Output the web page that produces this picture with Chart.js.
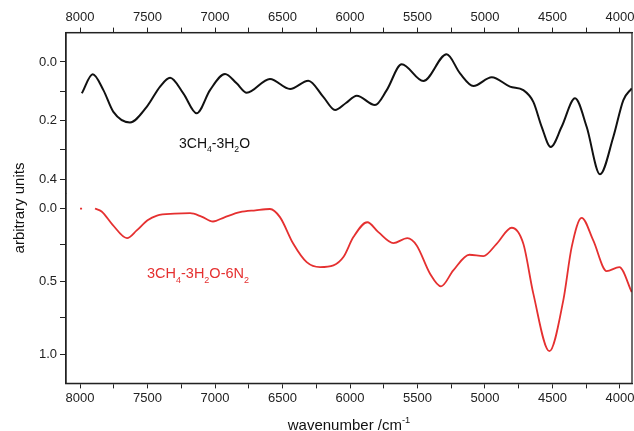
<!DOCTYPE html>
<html>
<head>
<meta charset="utf-8">
<script src="https://cdn.jsdelivr.net/npm/chart.js@4/dist/chart.umd.min.js"></script>
<style>
  body { margin: 0; background: #fff; }
  #wrap { width: 634px; height: 431px; }
</style>
</head>
<body>
<div id="wrap"><canvas id="chart"></canvas></div>
<script>
// wavenumber (cm-1) and absorbance-like values
const blackWn = [7987, 7906, 7827, 7753, 7630, 7506, 7407, 7333, 7235, 7136, 7037, 6926, 6840, 6765, 6593, 6444, 6309, 6198, 6111, 6030, 5950, 5815, 5728, 5617, 5457, 5284, 5185, 5086, 4950, 4815, 4716, 4642, 4580, 4513, 4432, 4333, 4247, 4148, 4049, 3975, 3913]
const blackVal = [0.107, 0.042, 0.096, 0.170, 0.206, 0.153, 0.084, 0.054, 0.107, 0.175, 0.096, 0.041, 0.073, 0.105, 0.058, 0.092, 0.064, 0.119, 0.164, 0.14, 0.115, 0.147, 0.096, 0.008, 0.065, -0.026, 0.039, 0.082, 0.052, 0.084, 0.096, 0.136, 0.221, 0.290, 0.221, 0.124, 0.221, 0.383, 0.255, 0.130, 0.090]

const redWn = [8000, 7985, 7940, 7889, 7840, 7760, 7652, 7580, 7500, 7430, 7300, 7185, 7100, 7015, 6930, 6815, 6700, 6593, 6519, 6420, 6321, 6222, 6123, 6049, 5975, 5872, 5790, 5679, 5575, 5506, 5407, 5326, 5235, 5116, 5012, 4914, 4802, 4716, 4642, 4523, 4420, 4358, 4284, 4198, 4099, 4005, 3913]
const redVal = [0, 0, null, 0.0, 0.02, 0.11, 0.203, 0.15, 0.08, 0.048, 0.035, 0.032, 0.055, 0.089, 0.06, 0.025, 0.012, 0.003, 0.059, 0.242, 0.368, 0.402, 0.39, 0.333, 0.196, 0.094, 0.162, 0.237, 0.203, 0.253, 0.447, 0.534, 0.425, 0.317, 0.326, 0.242, 0.132, 0.242, 0.584, 0.979, 0.630, 0.265, 0.064, 0.219, 0.429, 0.402, 0.573]

const xTicks = [4000, 4250, 4500, 4750, 5000, 5250, 5500, 5750, 6000, 6250, 6500, 6750, 7000, 7250, 7500, 7750, 8000]
const topTicks = [0, 0.1, 0.2, 0.3, 0.4]
const botTicks = [0, 0.25, 0.5, 0.75, 1.0]

const FONT = "'Liberation Sans', Arial, sans-serif"
const INK = '#222'
const RED = '#e53030'

const toPoints = (xs, ys) => xs.map((x, i) => ({ x, y: ys[i] }))

const xAxis = (position) => ({
  type: 'linear',
  position,
  reverse: true,
  min: 3911,
  max: 8104,
  afterBuildTicks: (scale) => { scale.ticks = xTicks.map(v => ({ value: v })) },
  ticks: {
    autoSkip: false,
    maxRotation: 0,
    padding: 2,
    color: INK,
    font: { family: FONT, size: 13 },
    callback: (v) => (v % 500 === 0 ? String(v) : '')
  },
  grid: { drawOnChartArea: false, tickLength: 5, color: INK, lineWidth: 1 },
  border: { display: true, color: INK, width: 1.3 }
})

const yAxis = (ticks, min, max, weight, fmt) => ({
  type: 'linear',
  position: 'left',
  stack: 'panels',
  stackWeight: weight,
  reverse: true,
  offset: false,
  min,
  max,
  afterBuildTicks: (scale) => { scale.ticks = ticks.map(v => ({ value: v })) },
  afterFit: (scale) => { scale.width = 29 },
  ticks: {
    padding: 3,
    color: INK,
    font: { family: FONT, size: 13 },
    callback: fmt
  },
  grid: { drawOnChartArea: false, tickLength: 6, color: INK, lineWidth: 1 },
  border: { display: true, color: INK, width: 1.3 }
})

// frame, axis titles and the in-plot labels with sub/superscripts
function drawRich(ctx, parts, x, y, size, color) {
  ctx.fillStyle = color
  ctx.textBaseline = 'alphabetic'
  ctx.textAlign = 'left'
  let cx = x
  for (const [txt, kind] of parts) {
    const s = kind ? size * 0.62 : size
    ctx.font = s + 'px ' + FONT
    const dy = kind === 'sub' ? size * 0.28 : kind === 'sup' ? -size * 0.45 : 0
    ctx.fillText(txt, cx, y + dy)
    cx += ctx.measureText(txt).width
  }
  return cx - x
}

function richWidth(ctx, parts, size) {
  let w = 0
  for (const [txt, kind] of parts) {
    ctx.font = (kind ? size * 0.62 : size) + 'px ' + FONT
    w += ctx.measureText(txt).width
  }
  return w
}

const decor = {
  id: 'decor',
  afterDraw(chart) {
    const { ctx, chartArea: a, scales } = chart
    ctx.save()
    ctx.strokeStyle = INK
    ctx.lineWidth = 1.3
    ctx.strokeRect(a.left, a.top, a.right - a.left, a.bottom - a.top)

    const blackLabel = [['3CH'], ['4', 'sub'], ['-3H'], ['2', 'sub'], ['O']]
    const redLabel = [['3CH'], ['4', 'sub'], ['-3H'], ['2', 'sub'], ['O-6N'], ['2', 'sub']]
    drawRich(ctx, blackLabel, scales.x.getPixelForValue(7267), scales.yTop.getPixelForValue(0.295), 14, '#111')
    drawRich(ctx, redLabel, scales.x.getPixelForValue(7504), scales.yBot.getPixelForValue(0.48), 14.5, RED)

    const xTitle = [['wavenumber /cm'], ['-1', 'sup']]
    const w = richWidth(ctx, xTitle, 15)
    drawRich(ctx, xTitle, (a.left + a.right) / 2 - w / 2, 430, 15, '#111')

    ctx.translate(24, (a.top + a.bottom) / 2)
    ctx.rotate(-Math.PI / 2)
    ctx.font = '15px ' + FONT
    ctx.textAlign = 'center'
    ctx.fillStyle = '#111'
    ctx.fillText('arbitrary units', 0, 0)
    ctx.restore()
  }
}

new Chart(document.getElementById('chart'), {
  type: 'line',
  data: {
    datasets: [
      {
        label: '3CH4-3H2O',
        data: toPoints(blackWn, blackVal),
        xAxisID: 'x',
        yAxisID: 'yTop',
        borderColor: '#111',
        borderWidth: 2,
        pointRadius: 0,
        cubicInterpolationMode: 'monotone',
        fill: false
      },
      {
        label: '3CH4-3H2O-6N2',
        data: toPoints(redWn, redVal),
        xAxisID: 'x',
        yAxisID: 'yBot',
        borderColor: RED,
        borderWidth: 1.8,
        pointRadius: 0,
        cubicInterpolationMode: 'monotone',
        spanGaps: false,
        fill: false
      }
    ]
  },
  options: {
    responsive: true,
    maintainAspectRatio: false,
    animation: false,
    layout: { padding: { left: 37, right: 2, top: 8, bottom: 23 } },
    plugins: {
      legend: { display: false },
      tooltip: { enabled: false }
    },
    scales: {
      x: xAxis('bottom'),
      x2: xAxis('top'),
      yBot: yAxis(botTicks, -0.1, 1.2, 189, (v) => (Math.abs(v * 100 % 50) < 1e-6 ? v.toFixed(1) : '')),
      yTop: yAxis(topTicks, -0.1, 0.45, 161, (v) => (Math.abs(v * 10 % 2) < 1e-6 ? v.toFixed(1) : ''))
    }
  },
  plugins: [decor]
})
</script>
</body>
</html>
